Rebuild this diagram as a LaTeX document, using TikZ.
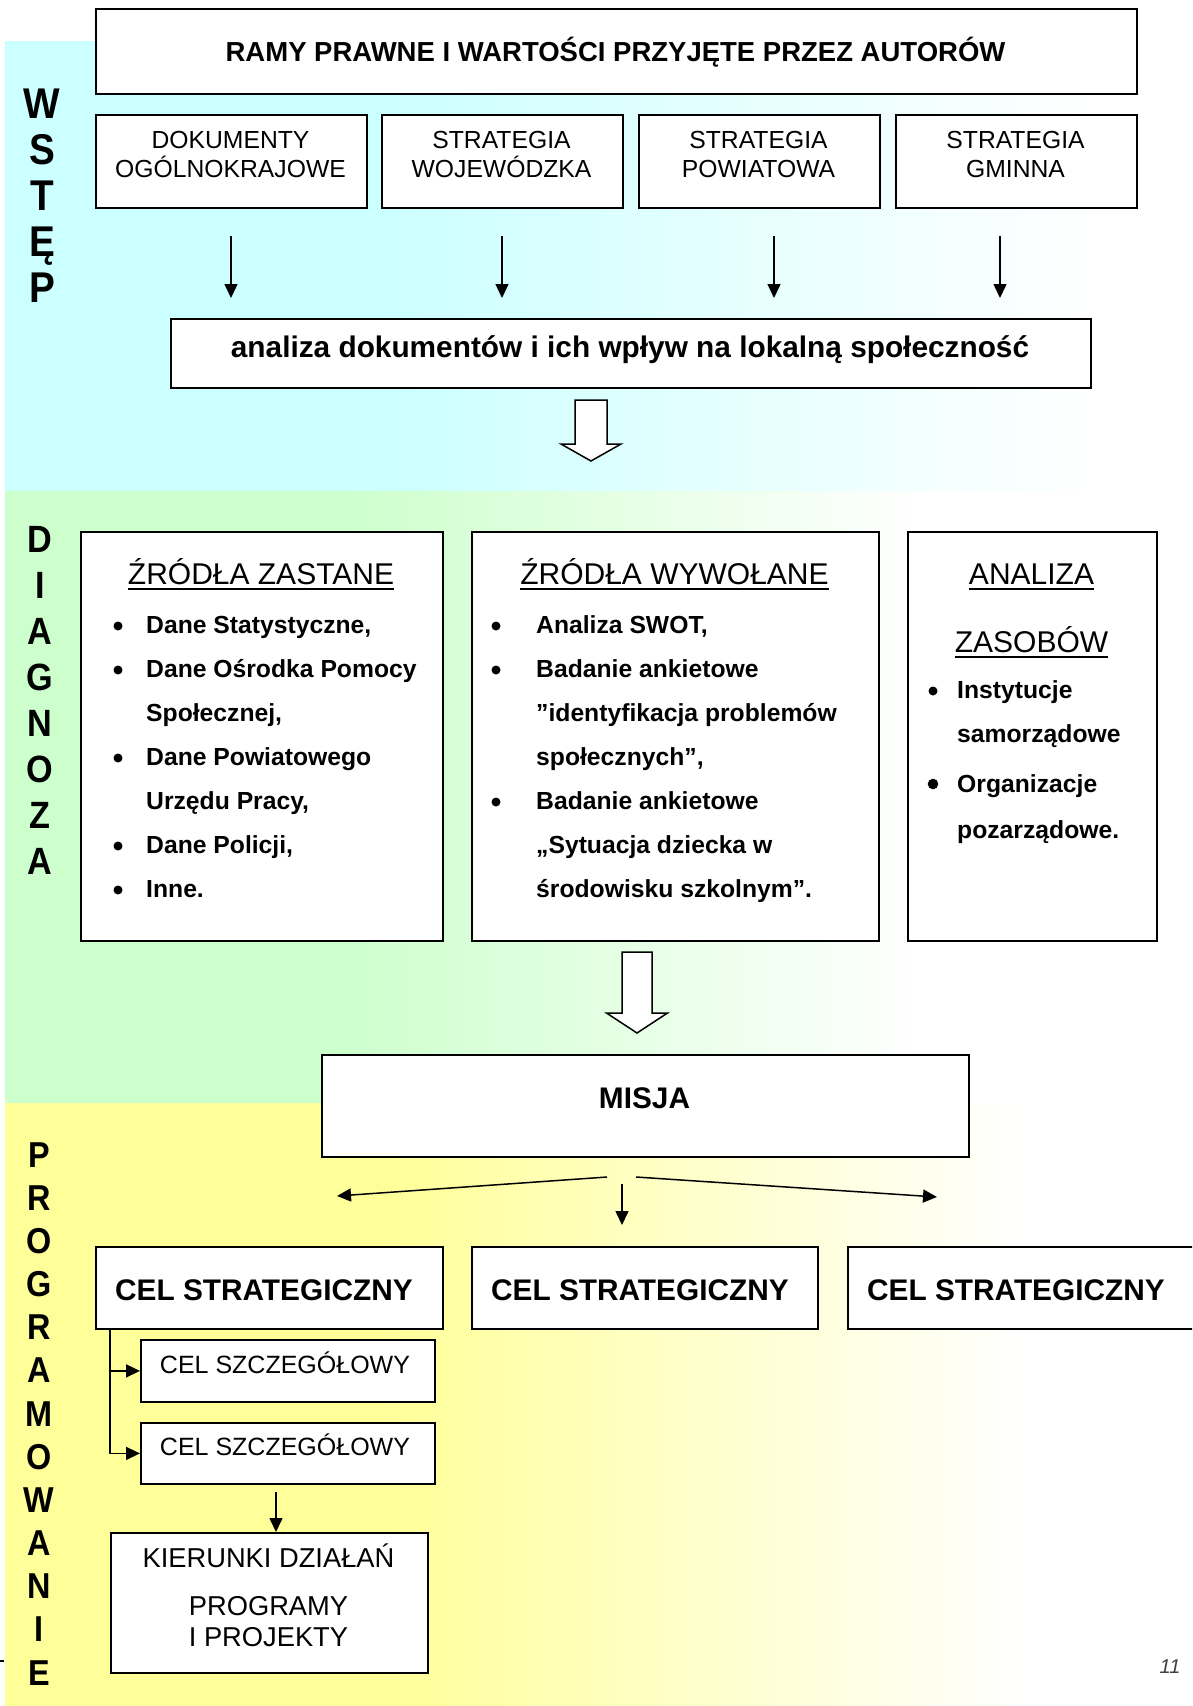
\documentclass[tikz,border=0pt]{standalone}
\usepackage{fontspec}
\setmainfont{Liberation Sans}
\newfontfamily\condf[FakeStretch=0.9]{Liberation Sans}
\usetikzlibrary{arrows.meta,calc}
\definecolor{cyanbg}{RGB}{204,255,255}
\definecolor{greenbg}{RGB}{204,255,204}
\definecolor{yellowbg}{RGB}{255,255,153}
\pgfdeclarehorizontalshading{cyanfade}{100bp}{color(0bp)=(cyanbg); color(41bp)=(cyanbg); color(71bp)=(white); color(100bp)=(white)}
\pgfdeclarehorizontalshading{greenfade}{100bp}{color(0bp)=(greenbg); color(42bp)=(greenbg); color(73bp)=(white); color(100bp)=(white)}
\pgfdeclarehorizontalshading{yellowfade}{100bp}{color(0bp)=(yellowbg); color(41bp)=(yellowbg); color(68bp)=(white); color(100bp)=(white)}
\newcommand\fsz[1]{\fontsize{#1pt}{#1pt}\selectfont}
\begin{document}
\begin{tikzpicture}[x=1pt,y=-1pt,
  box/.style={draw, line width=1.8pt, fill=white, inner sep=0pt, anchor=north west},
  tx/.style={inner sep=0pt, anchor=base},
  lb/.style={inner sep=0pt, anchor=base west, font=\bfseries\fsz{24.7}},
  ttl/.style={inner sep=0pt, anchor=base, font=\fsz{30}},
  secl/.style={inner sep=0pt, anchor=base},
  arr/.style={line width=1.5pt, -{Triangle[length=14pt,width=13pt]}},
  hollow/.style={draw, fill=white, line width=1.5pt, line join=miter},
  uline/.style={line width=1.7pt},
  bul/.style={fill=black}]
\useasboundingbox (0,0) rectangle (1192,1706);
\clip (0,0) rectangle (1192,1706);

% background zones
\shade[shading=cyanfade] (5,41) rectangle (1192,491);
\shade[shading=greenfade] (5,491) rectangle (963,1103);
\shade[shading=yellowfade] (5,1103) rectangle (1192,1706);

% section letters
\foreach \l [count=\i from 0] in {W,S,T,Ę,P}
  \node[secl, font=\condf\bfseries\fsz{43}] (w\i) at (42,{118+46*\i}) {\l};
\foreach \l [count=\i from 0] in {D,I,A,G,N,O,Z,A}
  \node[secl, font=\condf\bfseries\fsz{38}] (d\i) at (40,{552+46.14*\i}) {\l};
\foreach \l [count=\i from 0] in {P,R,O,G,R,A,M,O,W,A,N,I,E}
  \node[secl, font=\condf\bfseries\fsz{36}] (p\i) at (39,{1167+43.17*\i}) {\l};

% WSTEP boxes
\node[box, minimum width=1041pt, minimum height=85pt] (ramy) at (95,8) {};
\node[tx, font=\bfseries\fsz{27.5}] (ramyt) at (615.5,61) {RAMY PRAWNE I WARTOŚCI PRZYJĘTE PRZEZ AUTORÓW};

\node[box, minimum width=271pt, minimum height=93pt] (dok) at (95,114) {};
\node[box, minimum width=241pt, minimum height=93pt] (woj) at (381,114) {};
\node[box, minimum width=241pt, minimum height=93pt] (pow) at (638,114) {};
\node[box, minimum width=241pt, minimum height=93pt] (gmi) at (895,114) {};
\node[tx, font=\fsz{24.7}] (dok1) at (230.5,148) {DOKUMENTY};
\node[tx, font=\fsz{24.7}] (dok2) at (230.5,177) {OGÓLNOKRAJOWE};
\node[tx, font=\fsz{24.7}] (woj1) at (501.5,148) {STRATEGIA};
\node[tx, font=\fsz{24.7}] (woj2) at (501.5,177) {WOJEWÓDZKA};
\node[tx, font=\fsz{24.7}] (pow1) at (758.5,148) {STRATEGIA};
\node[tx, font=\fsz{24.7}] (pow2) at (758.5,177) {POWIATOWA};
\node[tx, font=\fsz{24.7}] (gmi1) at (1015.5,148) {STRATEGIA};
\node[tx, font=\fsz{24.7}] (gmi2) at (1015.5,177) {GMINNA};

\coordinate (a1s) at (231,236); \coordinate (a1e) at (231,298);
\coordinate (a2s) at (502,236); \coordinate (a2e) at (502,298);
\coordinate (a3s) at (774,236); \coordinate (a3e) at (774,298);
\coordinate (a4s) at (1000,236); \coordinate (a4e) at (1000,298);
\draw[arr] (a1s) -- (a1e);
\draw[arr] (a2s) -- (a2e);
\draw[arr] (a3s) -- (a3e);
\draw[arr] (a4s) -- (a4e);

\node[box, minimum width=920pt, minimum height=69pt] (ana) at (170,318) {};
\node[tx, font=\bfseries\fsz{29.8}] (anat) at (630,357) {analiza dokumentów i ich wpływ na lokalną społeczność};

\coordinate (h1) at (591,400);
\draw[hollow, shift={(h1)}] (-16,0) -- (16,0) -- (16,44) -- (30,44) -- (0,61) -- (-30,44) -- (-16,44) -- cycle;

% DIAGNOZA boxes
\node[box, minimum width=362pt, minimum height=409pt] (zas) at (80,531) {};
\node[box, minimum width=407pt, minimum height=409pt] (wyw) at (471,531) {};
\node[box, minimum width=249pt, minimum height=409pt] (zsb) at (907,531) {};

\node[ttl] (t1) at (261,584) {ŹRÓDŁA ZASTANE};
\draw[uline] ($(t1.base west)+(0,5)$) -- ($(t1.base east)+(0,5)$);
\node[ttl] (t2) at (674.5,584) {ŹRÓDŁA WYWOŁANE};
\draw[uline] ($(t2.base west)+(0,5)$) -- ($(t2.base east)+(0,5)$);
\node[ttl] (t3) at (1031.5,584) {ANALIZA};
\draw[uline] ($(t3.base west)+(0,5)$) -- ($(t3.base east)+(0,5)$);
\node[ttl] (t4) at (1031.5,652) {ZASOBÓW};
\draw[uline] ($(t4.base west)+(0,5)$) -- ($(t4.base east)+(0,5)$);

% list 1
\foreach \yy in {633,677,765,853,897} \fill[bul] (118,{\yy-7}) circle (4.5);
\node[lb] (z1) at (146,633) {Dane Statystyczne,};
\node[lb] (z2) at (146,677) {Dane Ośrodka Pomocy};
\node[lb] (z3) at (146,721) {Społecznej,};
\node[lb] (z4) at (146,765) {Dane Powiatowego};
\node[lb] (z5) at (146,809) {Urzędu Pracy,};
\node[lb] (z6) at (146,853) {Dane Policji,};
\node[lb] (z7) at (146,897) {Inne.};

% list 2
\foreach \yy in {633,677,809} \fill[bul] (496,{\yy-7}) circle (4.5);
\node[lb] (y1) at (536,633) {Analiza SWOT,};
\node[lb] (y2) at (536,677) {Badanie ankietowe};
\node[lb] (y3) at (536,721) {”identyfikacja problemów};
\node[lb] (y4) at (536,765) {społecznych”,};
\node[lb] (y5) at (536,809) {Badanie ankietowe};
\node[lb] (y6) at (536,853) {„Sytuacja dziecka w};
\node[lb] (y7) at (536,897) {środowisku szkolnym”.};

% list 3
\fill[bul] (933,691) circle (4.5);
\fill[bul] (933,784) circle (5.3);
\node[lb] (s1) at (957,698) {Instytucje};
\node[lb] (s2) at (957,742) {samorządowe};
\node[lb] (s3) at (957,792) {Organizacje};
\node[lb] (s4) at (957,838) {pozarządowe.};

\coordinate (h2) at (637,952);
\draw[hollow, shift={(h2)}] (-15,0) -- (15,0) -- (15,61) -- (30.5,61) -- (0,81) -- (-30.5,61) -- (-15,61) -- cycle;

% PROGRAMOWANIE
\node[box, minimum width=647pt, minimum height=102pt] (misja) at (321,1054) {};
\node[tx, font=\bfseries\fsz{29.8}] (misjat) at (644.5,1108) {MISJA};

\coordinate (m1s) at (607,1177); \coordinate (m1e) at (337,1196);
\coordinate (m2s) at (622,1184); \coordinate (m2e) at (622,1225);
\coordinate (m3s) at (636,1177); \coordinate (m3e) at (937,1197);
\draw[arr] (m1s) -- (m1e);
\draw[arr] (m2s) -- (m2e);
\draw[arr] (m3s) -- (m3e);

\node[box, minimum width=347pt, minimum height=82pt] (cs1) at (95,1246) {};
\node[box, minimum width=346pt, minimum height=82pt] (cs2) at (471,1246) {};
\node[box, minimum width=347pt, minimum height=82pt] (cs3) at (847,1246) {};
\node[tx, anchor=base west, font=\bfseries\fsz{29.8}] (cs1t) at (115,1300) {CEL STRATEGICZNY};
\node[tx, anchor=base west, font=\bfseries\fsz{29.8}] (cs2t) at (491,1300) {CEL STRATEGICZNY};
\node[tx, anchor=base west, font=\bfseries\fsz{29.8}] (cs3t) at (867,1300) {CEL STRATEGICZNY};

\node[box, minimum width=294pt, minimum height=62pt] (sz1) at (140,1339) {};
\node[box, minimum width=294pt, minimum height=61pt] (sz2) at (140,1422) {};
\node[tx, font=\fsz{25}] (sz1t) at (285,1373) {CEL SZCZEGÓŁOWY};
\node[tx, font=\fsz{25}] (sz2t) at (285,1455) {CEL SZCZEGÓŁOWY};

\coordinate (br) at ([xshift=15pt]cs1.south west);
\draw[arr] (br) |- (sz2.west);
\draw[arr] (br |- sz1.west) -- (sz1.west);

\node[box, minimum width=317pt, minimum height=140pt] (kier) at (110,1532) {};
\node[tx, font=\fsz{27.3}] (k1t) at (268.5,1567) {KIERUNKI DZIAŁAŃ};
\node[tx, font=\fsz{27.3}] (k2t) at (268.5,1615) {PROGRAMY};
\node[tx, font=\fsz{27.3}] (k3t) at (268.5,1646) {I PROJEKTY};

\coordinate (k0) at (276,1492);
\draw[arr] (k0) -- (k0 |- kier.north);

% page number and stray mark
\node[tx, font=\itshape\fsz{20}, text=black!75] (pg) at (1170,1673) {11};
\draw[line width=1.2pt] (0,1661) -- (4,1661);
\end{tikzpicture}
\end{document}
